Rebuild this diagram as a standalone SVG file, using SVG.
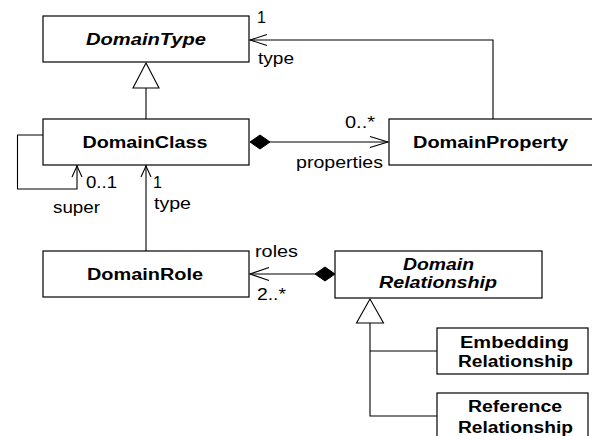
<svg xmlns="http://www.w3.org/2000/svg" width="592" height="436" viewBox="0 0 592 436">
<style>
.box{fill:#fff;stroke:#000;stroke-width:1.2}
.ln{fill:none;stroke:#000;stroke-width:1.1}
.tri{fill:#fff;stroke:#000;stroke-width:1.1}
.dia{fill:#000;stroke:#000;stroke-width:1}
.nm{font-family:"Liberation Sans",Arial,sans-serif;font-weight:bold;font-size:16px;fill:#000;text-anchor:middle}
.it{font-style:italic}
.lb{font-family:"Liberation Sans",Arial,sans-serif;font-size:16px;fill:#000}
</style>
<rect width="592" height="436" fill="#fff"/>
<g id="connectors">
  <!-- DomainClass generalizes DomainType -->
  <line class="ln" x1="146" y1="119" x2="146" y2="88"/>
  <polygon class="tri" points="146,63 133,88 159,88"/>
  <!-- self loop super -->
  <polyline class="ln" points="43,135 17.5,135 17.5,189 77,189 77,165"/>
  <polyline class="ln" points="72,177 77,166 82,177"/>
  <!-- DomainRole type -> DomainClass -->
  <line class="ln" x1="146" y1="251" x2="146" y2="165"/>
  <polyline class="ln" points="141,177 146,166 151,177"/>
  <!-- composition DomainClass -> DomainProperty -->
  <polygon class="dia" points="250,142 260,135 270,142 260,149"/>
  <line class="ln" x1="270" y1="142" x2="388" y2="142"/>
  <polyline class="ln" points="370,136.5 388,142 370,147.5"/>
  <!-- DomainProperty type -> DomainType -->
  <polyline class="ln" points="493,119 493,40 250,40"/>
  <polyline class="ln" points="267,34.5 250,40 267,45.5"/>
  <!-- composition DomainRelationship -> DomainRole -->
  <polygon class="dia" points="335,274 325,267 315,274 325,281"/>
  <line class="ln" x1="315" y1="274" x2="250" y2="274"/>
  <polyline class="ln" points="269,267.5 250,274 269,280.5"/>
  <!-- generalization to DomainRelationship -->
  <polygon class="tri" points="370,299 356.5,323 383.5,323"/>
  <polyline class="ln" points="370,323 370,416 437,416"/>
  <line class="ln" x1="370" y1="351" x2="437" y2="351"/>
  <!-- labels -->
  <text class="lb" x="257" y="23">1</text>
  <text class="lb" x="258" y="64" textLength="36" lengthAdjust="spacingAndGlyphs">type</text>
  <text class="lb" x="86" y="188" textLength="31" lengthAdjust="spacingAndGlyphs">0..1</text>
  <text class="lb" x="153" y="188">1</text>
  <text class="lb" x="53" y="213" textLength="47" lengthAdjust="spacingAndGlyphs">super</text>
  <text class="lb" x="154" y="209" textLength="37" lengthAdjust="spacingAndGlyphs">type</text>
  <text class="lb" x="345" y="128" textLength="30" lengthAdjust="spacingAndGlyphs">0..*</text>
  <text class="lb" x="296" y="168" textLength="87" lengthAdjust="spacingAndGlyphs">properties</text>
  <text class="lb" x="255" y="257" textLength="43" lengthAdjust="spacingAndGlyphs">roles</text>
  <text class="lb" x="257" y="300" textLength="29" lengthAdjust="spacingAndGlyphs">2..*</text>
</g>
<g id="DomainType">
  <rect class="box" x="43" y="16" width="206" height="46"/>
  <text class="nm it" x="146" y="45" textLength="120" lengthAdjust="spacingAndGlyphs">DomainType</text>
</g>
<g id="DomainClass">
  <rect class="box" x="43" y="119" width="206" height="46"/>
  <text class="nm" x="145" y="148" textLength="125" lengthAdjust="spacingAndGlyphs">DomainClass</text>
</g>
<g id="DomainProperty">
  <rect class="box" x="389" y="119" width="210" height="46"/>
  <text class="nm" x="490.5" y="148" textLength="155" lengthAdjust="spacingAndGlyphs">DomainProperty</text>
</g>
<g id="DomainRole">
  <rect class="box" x="43" y="251" width="206" height="46"/>
  <text class="nm" x="145" y="280" textLength="116" lengthAdjust="spacingAndGlyphs">DomainRole</text>
</g>
<g id="DomainRelationship">
  <rect class="box" x="335" y="251" width="207" height="47"/>
  <text class="nm it" x="438.5" y="270" textLength="71" lengthAdjust="spacingAndGlyphs">Domain</text>
  <text class="nm it" x="438" y="288" textLength="118" lengthAdjust="spacingAndGlyphs">Relationship</text>
</g>
<g id="EmbeddingRelationship">
  <rect class="box" x="437" y="328" width="151" height="46"/>
  <text class="nm" x="514.5" y="348" textLength="109" lengthAdjust="spacingAndGlyphs">Embedding</text>
  <text class="nm" x="515.5" y="367" textLength="115" lengthAdjust="spacingAndGlyphs">Relationship</text>
</g>
<g id="ReferenceRelationship">
  <rect class="box" x="437" y="393" width="151" height="52"/>
  <text class="nm" x="515" y="412" textLength="94" lengthAdjust="spacingAndGlyphs">Reference</text>
  <text class="nm" x="515.5" y="433" textLength="115" lengthAdjust="spacingAndGlyphs">Relationship</text>
</g>
</svg>
